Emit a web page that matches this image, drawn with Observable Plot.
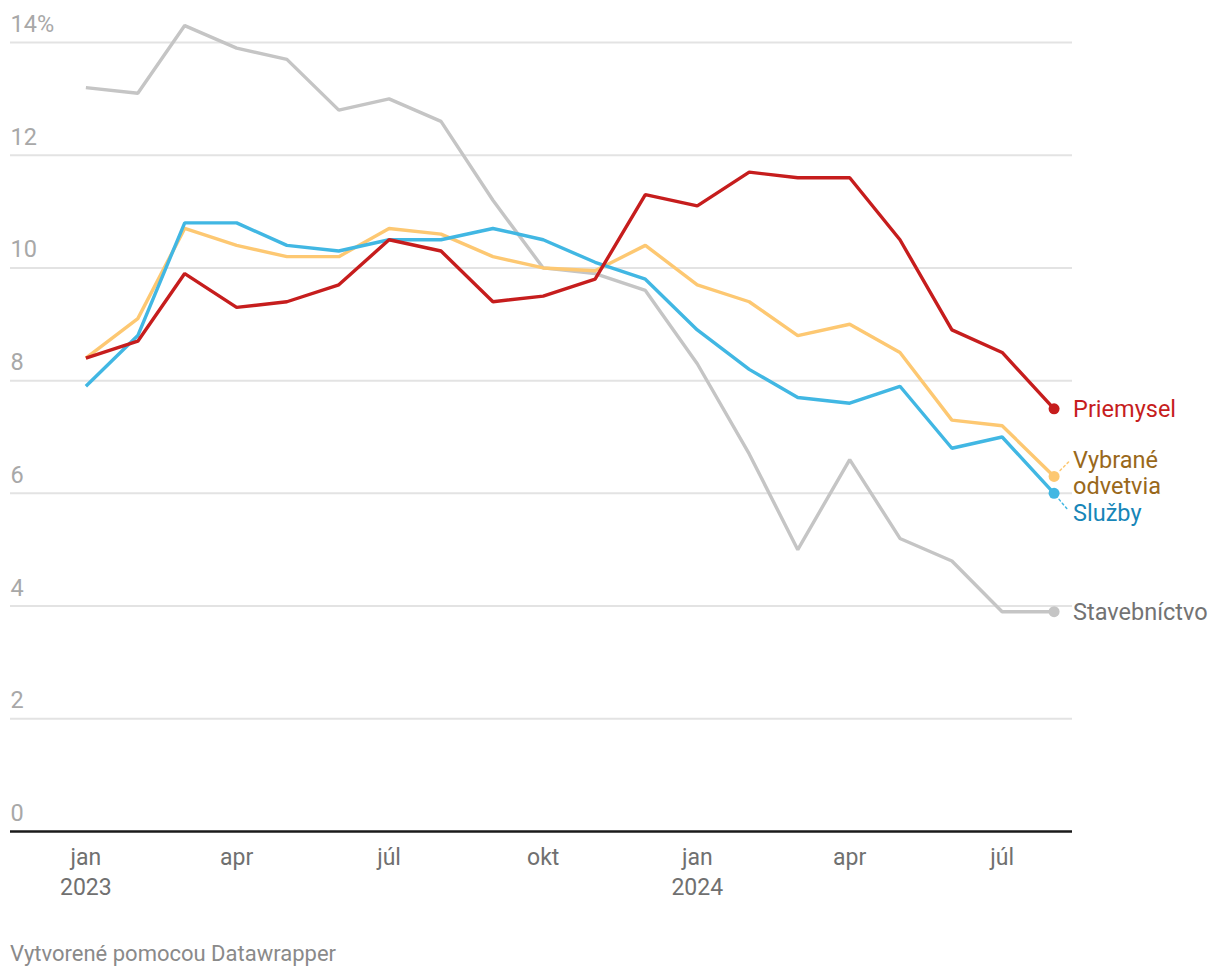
<!DOCTYPE html>
<html><head><meta charset="utf-8">
<script src="https://cdn.jsdelivr.net/npm/d3@7"></script>
<script src="https://cdn.jsdelivr.net/npm/@observablehq/plot@0.6"></script>
<style>
body{margin:0;background:#fff;font-family:Roboto,sans-serif}
#chart{position:absolute;left:0;top:0}
#caption{position:absolute;left:10px;top:943px;font-size:22px;line-height:1;color:#8a8a8a;font-family:Roboto,sans-serif}
</style></head>
<body><div id="chart"></div><div id="caption">Vytvorené pomocou Datawrapper</div>
<script>
const months = ["2023-01","2023-02","2023-03","2023-04","2023-05","2023-06","2023-07","2023-08","2023-09","2023-10","2023-11","2023-12",
                "2024-01","2024-02","2024-03","2024-04","2024-05","2024-06","2024-07","2024-08"];
const stavebnictvo = [13.2,13.1,14.3,13.9,13.7,12.8,13.0,12.6,11.2,10.0,9.9,9.6,8.3,6.7,5.0,6.6,5.2,4.8,3.9,3.9];
const vybrane      = [8.4,9.1,10.7,10.4,10.2,10.2,10.7,10.6,10.2,10.0,9.95,10.4,9.7,9.4,8.8,9.0,8.5,7.3,7.2,6.3];
const sluzby       = [7.9,8.8,10.8,10.8,10.4,10.3,10.5,10.5,10.7,10.5,10.1,9.8,8.9,8.2,7.7,7.6,7.9,6.8,7.0,6.0];
const priemysel    = [8.4,8.7,9.9,9.3,9.4,9.7,10.5,10.3,9.4,9.5,9.8,11.3,11.1,11.7,11.6,11.6,10.5,8.9,8.5,7.5];
const seriesNames  = ["Stavebníctvo","Vybrané odvetvia","Služby","Priemysel"];
const seriesLabels = ["Stavebníctvo","Vybrané\nodvetvia","Služby","Priemysel"];
const yTicks = [0,2,4,6,8,10,12,14];
const xTickMonths = ["2023-01","2023-04","2023-07","2023-10","2024-01","2024-04","2024-07"];
const monthNames = {0:"jan",3:"apr",6:"júl",9:"okt"};

const lineColors  = ["#c5c5c5","#fdc872","#41b7e3","#c61d1d"];
const labelColors = ["#737373","#99681a","#1786b8","#c61d1d"];

const parse = d3.utcParse("%Y-%m");
const dates = months.map(parse);
const valuesList = [stavebnictvo, vybrane, sluzby, priemysel];
const data = [];
valuesList.forEach((vals, s) => vals.forEach((v, i) => data.push({series: seriesNames[s], date: dates[i], value: v})));
const last = valuesList.map((vals, s) => ({series: seriesNames[s], label: seriesLabels[s], date: dates[dates.length-1], value: vals[vals.length-1], color: lineColors[s], lc: labelColors[s]}));

const fmtTick = d => {
  const m = d.getUTCMonth();
  return m === 0 ? `${monthNames[m]}\n${d.getUTCFullYear()}` : monthNames[m];
};

const slash = {draw(ctx, l) { ctx.moveTo(0, 0); ctx.lineTo(0, -l); }};

const marks = [
  Plot.gridY(yTicks.filter(d => d > 0), {stroke: "#e3e3e3", strokeOpacity: 1, strokeWidth: 2}),
  Plot.text(yTicks, {y: d => d, frameAnchor: "left", textAnchor: "start", dy: -18, fill: "#a8a8a8", fontSize: 23.5,
    text: d => d === 14 ? "14%" : String(d)}),
  Plot.ruleY([0], {stroke: "#1a1a1a", strokeWidth: 2.5}),
  Plot.axisX({ticks: xTickMonths.map(parse), tickSize: 0, tickPadding: 13, tickFormat: fmtTick, fontSize: 23, fill: "#707070", lineHeight: 1.28, label: null}),
];
seriesNames.forEach((name, s) => {
  marks.push(Plot.line(data.filter(d => d.series === name), {x: "date", y: "value", stroke: lineColors[s], strokeWidth: 3.4, strokeLinejoin: "miter", strokeLinecap: "butt"}));
});
// dashed connectors for crowded labels
marks.push(Plot.vector([last[1]], {x: "date", y: "value", rotate: 45, length: 12, anchor: "start", dx: 6, dy: -6, shape: slash, stroke: lineColors[1], strokeWidth: 1.5, strokeDasharray: "2,3"}));
marks.push(Plot.vector([last[2]], {x: "date", y: "value", rotate: 140, length: 12, anchor: "start", dx: 5, dy: 6, shape: slash, stroke: lineColors[2], strokeWidth: 1.5, strokeDasharray: "2,3"}));
marks.push(Plot.dot(last, {x: "date", y: "value", r: 5.5, fill: "color", stroke: "none"}));
const labelDy = [0, -3.5, 19.5, 0];
last.forEach((d, s) => {
  marks.push(Plot.text([d], {x: "date", y: "value", text: "label", dx: 19, dy: labelDy[s], textAnchor: "start", fill: d.lc, fontSize: 23.5, lineHeight: 1.1}));
});

const chart = Plot.plot({
  width: 1220, height: 911,
  marginLeft: 10, marginRight: 148, marginTop: 42, marginBottom: 80,
  style: {fontFamily: "Roboto, sans-serif", background: "#fff", overflow: "visible"},
  x: {type: "utc", domain: [new Date(Date.UTC(2022,10,17)), new Date(Date.UTC(2024,7,12))]},
  y: {domain: [0, 14], axis: null},
  marks
});
document.getElementById("chart").append(chart);
</script>
</body></html>
